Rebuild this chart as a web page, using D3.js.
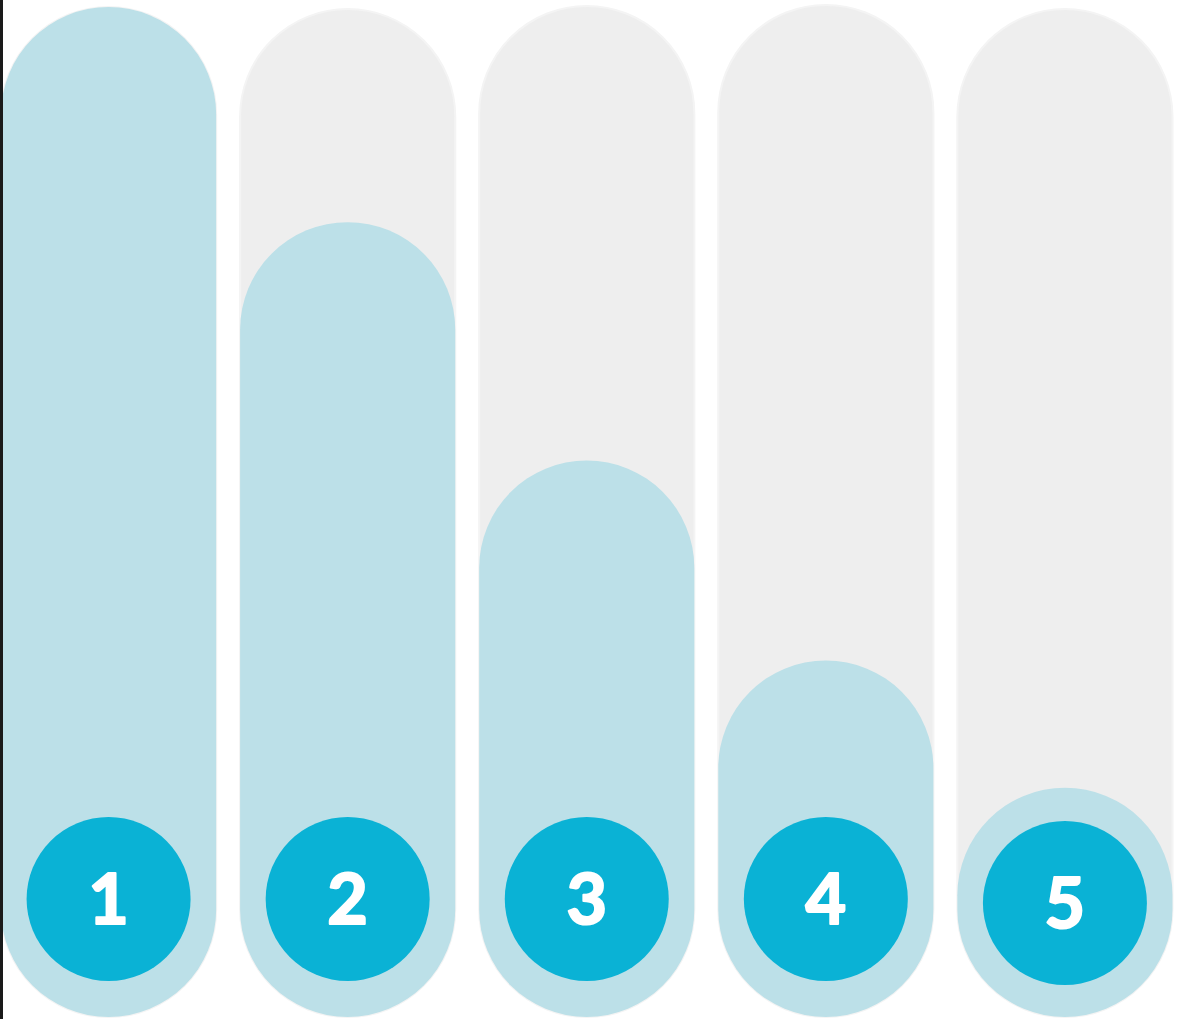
<!DOCTYPE html>
<html>
<head>
<meta charset="utf-8">
<script src="https://cdn.jsdelivr.net/npm/d3@7"></script>
<style>
  html, body { margin: 0; padding: 0; background: #ffffff; }
  svg { display: block; }
</style>
</head>
<body>
<script>
const categories = ["1", "2", "3", "4", "5"];
const trackValues = [100, 99.8, 100.1, 100.2, 99.8];
const values = [100, 78.7, 55.1, 35.3, 22.7];

const W = 1178, H = 1019;
const svg = d3.select("body").append("svg").attr("width", W).attr("height", H);

const x = d3.scaleBand().domain(categories).range([1, 1172.5]).paddingInner(0.1).paddingOuter(0);
const y = d3.scaleLinear().domain([0, 100]).range([1017, 7]);
const bw = x.bandwidth();

const data = categories.map((c, i) => ({ c, track: trackValues[i], v: values[i] }));

// background tracks
svg.selectAll("rect.track").data(data).join("rect")
  .attr("class", "track")
  .attr("x", d => x(d.c))
  .attr("y", d => y(d.track))
  .attr("width", bw)
  .attr("height", d => y(0) - y(d.track))
  .attr("rx", bw / 2).attr("ry", bw / 2)
  .attr("fill", "#eeeeee")
  .attr("stroke", "#f4f4f4")
  .attr("stroke-width", 2);

// value fills
svg.selectAll("rect.fill").data(data).join("rect")
  .attr("class", "fill")
  .attr("x", d => x(d.c))
  .attr("y", d => y(d.v))
  .attr("width", bw)
  .attr("height", d => y(0) - y(d.v))
  .attr("rx", bw / 2).attr("ry", bw / 2)
  .attr("fill", "#bce0e8");

// number badges
const cy = y(0) - 118;
svg.selectAll("circle.badge").data(data).join("circle")
  .attr("class", "badge")
  .attr("cx", d => x(d.c) + bw / 2)
  .attr("cy", (d, i) => i === 4 ? cy + 4 : cy)
  .attr("r", 82)
  .attr("fill", "#0ab2d5");

svg.selectAll("text.num").data(data).join("text")
  .attr("class", "num")
  .attr("x", d => x(d.c) + bw / 2)
  .attr("y", (d, i) => i === 4 ? cy + 4 : cy)
  .attr("dy", "0.36em")
  .attr("text-anchor", "middle")
  .attr("font-family", "Lato, 'Open Sans', sans-serif")
  .attr("font-weight", 700)
  .attr("font-size", 70)
  .attr("fill", "#ffffff")
  .attr("stroke", "#ffffff")
  .attr("stroke-width", 2.2)
  .attr("stroke-linejoin", "round")
  .text(d => d.c);

// dark edge on the left
svg.append("rect").attr("x", 0).attr("y", 0).attr("width", 3).attr("height", H).attr("fill", "#1a1a1a");
</script>
</body>
</html>
